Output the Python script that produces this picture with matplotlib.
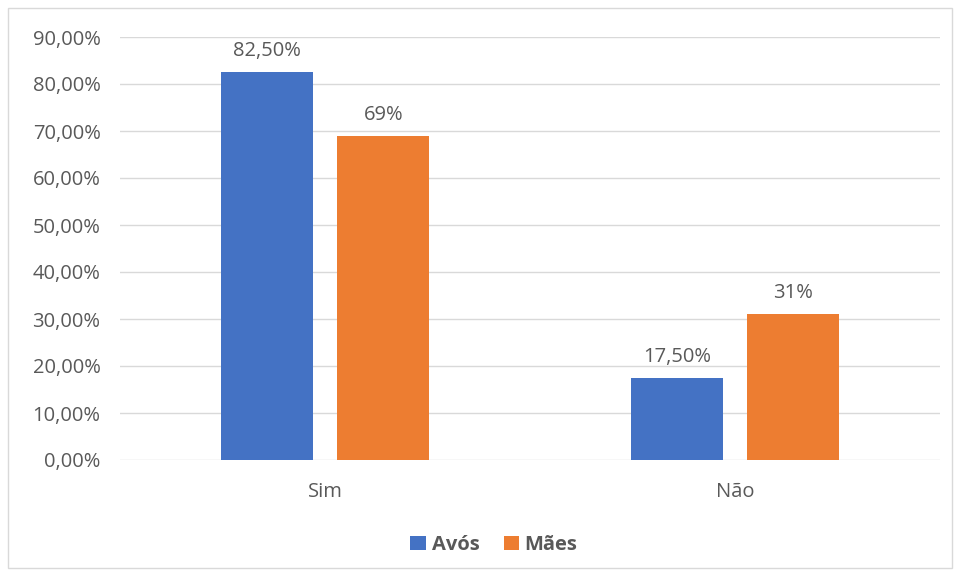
import matplotlib
matplotlib.use("Agg")
import matplotlib.pyplot as plt
from matplotlib.patches import Rectangle
import numpy as np

categories = ["Sim", "Não"]
avos = [0.825, 0.175]
maes = [0.69, 0.31]
avos_labels = ["82,50%", "17,50%"]
maes_labels = ["69%", "31%"]
yticks = [0.0, 0.1, 0.2, 0.3, 0.4, 0.5, 0.6, 0.7, 0.8, 0.9]

BLUE = "#4472C4"
ORANGE = "#ED7D31"
TEXT = "#595959"
GRID = "#D9D9D9"
FS = 14.5

plt.rcParams["font.family"] = ["Open Sans", "DejaVu Sans"]

fig = plt.figure(figsize=(9.6, 5.76), dpi=100)
fig.patches.append(Rectangle((8 / 960, 8 / 576), 944 / 960, 560 / 576,
                             transform=fig.transFigure, fill=False,
                             edgecolor=GRID, linewidth=1))

ax = fig.add_axes([120 / 960, 116 / 576, 820 / 960, 423 / 576])
x = np.arange(len(categories))
w = 0.224
off = 0.142
b1 = ax.bar(x - off, avos, w, color=BLUE, label="Avós", zorder=3)
b2 = ax.bar(x + off, maes, w, color=ORANGE, label="Mães", zorder=3)

for bars, labels in ((b1, avos_labels), (b2, maes_labels)):
    for rect, lab in zip(bars, labels):
        ax.annotate(lab, (rect.get_x() + rect.get_width() / 2, rect.get_height()),
                    xytext=(0, 8), textcoords="offset points",
                    ha="center", va="bottom", fontsize=FS, color=TEXT)

ax.set_xlim(-0.5, 1.5)
ax.set_ylim(0, 0.9)
ax.set_yticks(yticks)
ax.set_yticklabels([f"{v * 100:.2f}%".replace(".", ",") for v in yticks])
ax.set_xticks(x)
ax.set_xticklabels(categories)
ax.tick_params(axis="both", length=0, labelsize=FS, labelcolor=TEXT)
ax.tick_params(axis="y", pad=14)
ax.tick_params(axis="x", pad=16)
ax.grid(axis="y", color=GRID, linewidth=1, zorder=0)
for s in ax.spines.values():
    s.set_visible(False)

leg = fig.legend(handles=[b1, b2], loc="center", bbox_to_anchor=(494 / 960, 31 / 576),
                 ncol=2, frameon=False, handlelength=0.75, handleheight=0.75,
                 handletextpad=0.3, columnspacing=1.2,
                 prop={"size": FS, "weight": "bold"})
for t in leg.get_texts():
    t.set_color(TEXT)

fig.savefig("out.png", dpi=100)
plt.close(fig)
